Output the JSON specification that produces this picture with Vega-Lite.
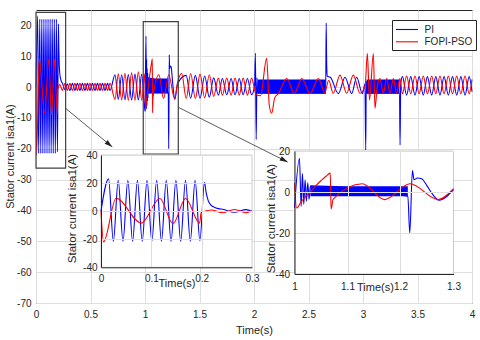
{
  "$schema": "https://vega.github.io/schema/vega-lite/v6.json",
  "width": 436,
  "height": 293,
  "autosize": "none",
  "padding": {"left": 36, "top": 10, "right": 8, "bottom": 37},
  "background": "white",
  "config": {
    "font": "Liberation Sans",
    "view": {"stroke": "#262626", "strokeWidth": 1},
    "axis": {"labelFont": "Liberation Sans", "labelFontSize": 10, "labelColor": "#262626", "titleFont": "Liberation Sans", "titleFontSize": 11, "titleFontWeight": "normal", "titleColor": "#262626", "gridColor": "#dedede", "gridOpacity": 1, "ticks": false, "domainColor": "#262626", "labelFlush": false, "labelOverlap": false, "tickCount": 20},
    "line": {"strokeWidth": 1.1, "interpolate": "monotone"}
  },
  "datasets": {
    "pi": [
      {"t":0,"v":0},{"t":0.015,"v":23},{"t":0.0246,"v":-21.5},{"t":0.0342,"v":22},{"t":0.0437,"v":-21.5},{"t":0.0533,"v":22},{"t":0.0628,"v":-21.5},{"t":0.0724,"v":22},{"t":0.0819,"v":-21.5},{"t":0.0915,"v":22},{"t":0.101,"v":-21.5},{"t":0.1106,"v":22},{"t":0.1201,"v":-21.5},{"t":0.1297,"v":22},{"t":0.1392,"v":-21.5},{"t":0.1488,"v":22},{"t":0.1583,"v":-21.5},{"t":0.1679,"v":22},{"t":0.1774,"v":-21.5},{"t":0.187,"v":22},{"t":0.1965,"v":-21},{"t":0.2055,"v":20.5},{"t":0.209,"v":13},{"t":0.213,"v":7.5},{"t":0.218,"v":4.5},{"t":0.225,"v":2.8},{"t":0.233,"v":1.8},{"t":0.242,"v":1.3},{"t":0.265,"v":-0.8},{"t":0.288,"v":1.1},{"t":0.3,"v":-0.3},{"t":0.311,"v":-1.1},{"t":0.334,"v":1.2},{"t":0.357,"v":-1.1},{"t":0.38,"v":1.2},{"t":0.403,"v":-1.1},{"t":0.426,"v":1.2},{"t":0.449,"v":-1.1},{"t":0.472,"v":1.2},{"t":0.495,"v":-1.1},{"t":0.518,"v":1.2},{"t":0.541,"v":-1.1},{"t":0.564,"v":1.2},{"t":0.587,"v":-1.1},{"t":0.61,"v":1.2},{"t":0.633,"v":-1.1},{"t":0.656,"v":1.2},{"t":0.679,"v":-1.1},{"t":0.725,"v":4},{"t":0.755,"v":-4},{"t":0.786,"v":4},{"t":0.816,"v":-4.1},{"t":0.847,"v":4.1},{"t":0.877,"v":-4.2},{"t":0.908,"v":4.2},{"t":0.939,"v":-4.2},{"t":0.97,"v":4.2},{"t":1.0,"v":-7.8},{"t":1.0094,"v":16.5},{"t":1.0125,"v":-7},{"t":1.015,"v":9},{"t":1.0175,"v":-6},{"t":1.02,"v":6},{"t":1.0225,"v":-4.5},{"t":1.025,"v":4.5},{"t":1.0275,"v":-3.5},{"t":1.03,"v":3},{"t":1.2138,"v":-2},{"t":1.2175,"v":-20},{"t":1.2225,"v":10.5},{"t":1.2255,"v":6},{"t":1.232,"v":6.8},{"t":1.24,"v":6.5},{"t":1.25,"v":3},{"t":1.2575,"v":0},{"t":1.273,"v":-4},{"t":1.3,"v":1.2},{"t":1.378,"v":3.8},{"t":1.419,"v":-3.6},{"t":1.462,"v":3.8},{"t":1.505,"v":-3.6},{"t":1.547,"v":3.6},{"t":1.59,"v":-3.3},{"t":1.63,"v":3},{"t":1.673,"v":-2.6},{"t":1.71,"v":2.8},{"t":1.75,"v":-2.5},{"t":1.79,"v":2.8},{"t":1.826,"v":-2.5},{"t":1.865,"v":2.8},{"t":1.9,"v":-2.5},{"t":1.94,"v":2.8},{"t":1.978,"v":-2.5},{"t":2.005,"v":0.5},{"t":2.013,"v":11},{"t":2.02,"v":-17},{"t":2.027,"v":3},{"t":2.034,"v":-2},{"t":2.658,"v":-2},{"t":2.662,"v":20.8},{"t":2.667,"v":7},{"t":2.673,"v":3.5},{"t":2.7,"v":3.2},{"t":2.774,"v":-2.1},{"t":2.835,"v":3.2},{"t":2.896,"v":-2.1},{"t":2.942,"v":3.2},{"t":2.994,"v":-2.1},{"t":3.018,"v":1},{"t":3.025,"v":-20.4},{"t":3.03,"v":2},{"t":3.034,"v":-2},{"t":3.335,"v":-2},{"t":3.34,"v":-18.8},{"t":3.346,"v":1},{"t":3.362,"v":3.4},{"t":3.4,"v":-2.6},{"t":3.438,"v":3.4},{"t":3.477,"v":-2.6},{"t":3.515,"v":3.4},{"t":3.553,"v":-2.6},{"t":3.591,"v":3.4},{"t":3.63,"v":-2.6},{"t":3.668,"v":3.4},{"t":3.706,"v":-2.6},{"t":3.744,"v":3.4},{"t":3.783,"v":-2.6},{"t":3.821,"v":3.4},{"t":3.86,"v":-2.6},{"t":3.898,"v":3.4},{"t":3.936,"v":-2.6},{"t":3.974,"v":3.4},{"t":4.0,"v":-1.5}
    ],
    "fopi": [
      {"t":0,"v":0},{"t":0.005,"v":-22},{"t":0.03,"v":9.2},{"t":0.08,"v":-8.5},{"t":0.117,"v":9},{"t":0.143,"v":-9},{"t":0.168,"v":9},{"t":0.196,"v":-8.5},{"t":0.199,"v":-1},{"t":0.219,"v":0.8},{"t":0.242,"v":-1.1},{"t":0.265,"v":1.2},{"t":0.288,"v":-1.1},{"t":0.3,"v":0.2},{"t":0.311,"v":1.2},{"t":0.334,"v":-1.1},{"t":0.357,"v":1.2},{"t":0.38,"v":-1.1},{"t":0.403,"v":1.2},{"t":0.426,"v":-1.1},{"t":0.449,"v":1.2},{"t":0.472,"v":-1.1},{"t":0.495,"v":1.2},{"t":0.518,"v":-1.1},{"t":0.541,"v":1.2},{"t":0.564,"v":-1.1},{"t":0.587,"v":1.2},{"t":0.61,"v":-1.1},{"t":0.633,"v":1.2},{"t":0.656,"v":-1.1},{"t":0.679,"v":1.2},{"t":0.725,"v":-4},{"t":0.755,"v":4.3},{"t":0.786,"v":-4.2},{"t":0.816,"v":4.5},{"t":0.847,"v":-4.3},{"t":0.877,"v":4.7},{"t":0.908,"v":-4.3},{"t":0.939,"v":5},{"t":0.97,"v":-4.3},{"t":1.0,"v":4.4},{"t":1.004,"v":-7.8},{"t":1.012,"v":-5},{"t":1.02,"v":-2.5},{"t":1.03,"v":0},{"t":1.04,"v":3},{"t":1.05,"v":5.5},{"t":1.06,"v":7.8},{"t":1.0675,"v":9.2},{"t":1.069,"v":-8.3},{"t":1.073,"v":-3.5},{"t":1.128,"v":4},{"t":1.17,"v":-3.7},{"t":1.218,"v":4},{"t":1.271,"v":-3.7},{"t":1.3,"v":1.6},{"t":1.337,"v":4.4},{"t":1.378,"v":-3.7},{"t":1.419,"v":4.4},{"t":1.462,"v":-3.7},{"t":1.505,"v":4.2},{"t":1.547,"v":-3.5},{"t":1.59,"v":4},{"t":1.63,"v":-3},{"t":1.673,"v":2.9},{"t":1.71,"v":-2.6},{"t":1.75,"v":2.9},{"t":1.79,"v":-2.6},{"t":1.826,"v":2.9},{"t":1.865,"v":-2.6},{"t":1.9,"v":2.9},{"t":1.94,"v":-2.6},{"t":1.978,"v":2.9},{"t":2.02,"v":-2.5},{"t":2.06,"v":-2.8},{"t":2.116,"v":9.3},{"t":2.14,"v":-5.8},{"t":2.162,"v":-8.5},{"t":2.19,"v":-3.5},{"t":2.223,"v":-2.1},{"t":2.3,"v":2.8},{"t":2.37,"v":-2.1},{"t":2.438,"v":2.8},{"t":2.514,"v":-2.1},{"t":2.59,"v":2.8},{"t":2.65,"v":-1.8},{"t":2.685,"v":2.2},{"t":2.727,"v":-2},{"t":2.789,"v":3.9},{"t":2.85,"v":-2},{"t":2.911,"v":3.9},{"t":2.972,"v":-2},{"t":3.02,"v":0.5},{"t":3.04,"v":10.9},{"t":3.06,"v":-4.2},{"t":3.095,"v":10.9},{"t":3.11,"v":-6.9},{"t":3.13,"v":0},{"t":3.156,"v":2.8},{"t":3.186,"v":-2},{"t":3.217,"v":2.8},{"t":3.248,"v":-2},{"t":3.278,"v":2.8},{"t":3.309,"v":-2},{"t":3.339,"v":2.8},{"t":3.362,"v":-2.2},{"t":3.4,"v":3.6},{"t":3.438,"v":-2.2},{"t":3.477,"v":3.6},{"t":3.515,"v":-2.2},{"t":3.553,"v":3.6},{"t":3.591,"v":-2.2},{"t":3.63,"v":3.6},{"t":3.668,"v":-2.2},{"t":3.706,"v":3.6},{"t":3.744,"v":-2.2},{"t":3.783,"v":3.6},{"t":3.821,"v":-2.2},{"t":3.86,"v":3.6},{"t":3.898,"v":-2.2},{"t":3.936,"v":3.6},{"t":3.974,"v":-2.2},{"t":4.0,"v":2.5}
    ],
    "band": [
      {"b":1,"t":1.03,"lo":-2.1,"hi":2.8},{"b":1,"t":1.2138,"lo":-2.1,"hi":2.8},
      {"b":2,"t":2.034,"lo":-2.05,"hi":2.5},{"b":2,"t":2.658,"lo":-2.05,"hi":2.5},
      {"b":3,"t":3.034,"lo":-2.05,"hi":2.5},{"b":3,"t":3.335,"lo":-2.05,"hi":2.5}
    ],
    "boxes": [
      {"t0":0,"t1":0.272,"v0":-26.3,"v1":24.2},
      {"t0":0.984,"t1":1.3055,"v0":-21.7,"v1":21.2}
    ],
    "arrows": [
      {"t0":0.272,"v0":-6.9,"t1":0.7,"v1":-19.4},
      {"t0":1.3055,"v0":-6.55,"t1":2.31,"v1":-24.3}
    ]
  },
  "resolve": {"scale": {"x": "independent", "y": "independent"}, "axis": {"x": "independent", "y": "independent"}},
  "layer": [
    {
      "layer": [
        {
          "data": {"name": "pi"},
          "mark": {"type": "line"},
          "encoding": {
            "x": {"field": "t", "type": "quantitative", "scale": {"domain": [0, 4], "nice": false, "zero": false},
                  "axis": {"orient": "bottom", "values": [0, 0.5, 1, 1.5, 2, 2.5, 3, 3.5, 4], "tickCount": 20, "labelExpr": "'' + datum.value", "labelOverlap": false, "grid": true, "domain": false, "labelPadding": 6, "title": "Time(s)", "titleBaseline": "middle", "titleY": 27}},
            "y": {"field": "v", "type": "quantitative", "scale": {"domain": [-70, 25], "nice": false, "zero": false},
                  "axis": {"orient": "left", "values": [-70, -60, -50, -40, -30, -20, -10, 0, 10, 20], "tickCount": 20, "labelExpr": "'' + datum.value", "labelOverlap": false, "grid": true, "domain": false, "labelPadding": 5, "title": "Stator current isa1(A)", "titleBaseline": "middle", "titleX": -26, "titleY": 146}},
            "color": {"datum": "PI", "type": "nominal", "scale": {"domain": ["PI", "FOPI-PSO"], "range": ["#0000ff", "#ff0000"]},
                      "legend": {"orient": "none", "legendX": 356, "legendY": 10, "title": null, "strokeColor": "#262626", "fillColor": "#ffffff", "padding": 3, "symbolType": "M-2,0H2", "symbolSize": 121, "symbolOffset": 5.5, "symbolStrokeWidth": 1.2, "labelFontSize": 10, "labelColor": "#262626", "labelOffset": 11, "rowPadding": 0.3}}
          }
        },
        {
          "data": {"name": "band"},
          "mark": {"type": "area", "color": "#0000ff", "interpolate": "linear"},
          "encoding": {
            "x": {"field": "t", "type": "quantitative", "scale": {"domain": [0, 4], "nice": false, "zero": false}},
            "y": {"field": "lo", "type": "quantitative", "scale": {"domain": [-70, 25], "nice": false, "zero": false}},
            "y2": {"field": "hi"},
            "detail": {"field": "b", "type": "nominal"}
          }
        },
        {
          "data": {"name": "fopi"},
          "mark": {"type": "line"},
          "encoding": {
            "x": {"field": "t", "type": "quantitative", "scale": {"domain": [0, 4], "nice": false, "zero": false}},
            "y": {"field": "v", "type": "quantitative", "scale": {"domain": [-70, 25], "nice": false, "zero": false}},
            "color": {"datum": "FOPI-PSO", "type": "nominal"}
          }
        },
        {
          "data": {"name": "boxes"},
          "mark": {"type": "rect", "filled": false, "stroke": "#404040", "strokeWidth": 1.2},
          "encoding": {
            "x": {"field": "t0", "type": "quantitative", "scale": {"domain": [0, 4], "nice": false, "zero": false}},
            "x2": {"field": "t1"},
            "y": {"field": "v0", "type": "quantitative", "scale": {"domain": [-70, 25], "nice": false, "zero": false}},
            "y2": {"field": "v1"}
          }
        },
        {
          "data": {"name": "arrows"},
          "mark": {"type": "rule", "color": "#333333", "strokeWidth": 0.8},
          "encoding": {
            "x": {"field": "t0", "type": "quantitative", "scale": {"domain": [0, 4], "nice": false, "zero": false}},
            "x2": {"field": "t1"},
            "y": {"field": "v0", "type": "quantitative", "scale": {"domain": [-70, 25], "nice": false, "zero": false}},
            "y2": {"field": "v1"}
          }
        },
        {
          "data": {"values": [{}]},
          "mark": {"type": "point", "shape": "M0,0L-2,-0.6L-2,0.6Z", "filled": true, "color": "#222222", "opacity": 1, "size": 64, "angle": 40},
          "encoding": {
            "x": {"datum": 0.7, "type": "quantitative", "scale": {"domain": [0, 4], "nice": false, "zero": false}},
            "y": {"datum": -19.4, "type": "quantitative", "scale": {"domain": [-70, 25], "nice": false, "zero": false}}
          }
        },
        {
          "data": {"values": [{}]},
          "mark": {"type": "point", "shape": "M0,0L-2,-0.6L-2,0.6Z", "filled": true, "color": "#222222", "opacity": 1, "size": 64, "angle": 27},
          "encoding": {
            "x": {"datum": 2.31, "type": "quantitative", "scale": {"domain": [0, 4], "nice": false, "zero": false}},
            "y": {"datum": -24.3, "type": "quantitative", "scale": {"domain": [-70, 25], "nice": false, "zero": false}}
          }
        }
      ]
    },
    {
      "resolve": {"axis": {"x": "independent"}},
      "layer": [
        {
          "data": {"values": [{}]},
          "mark": {"type": "rect", "fill": "#ffffff", "stroke": "#cccccc", "strokeWidth": 1},
          "encoding": {
            "x": {"datum": 0, "type": "quantitative", "scale": {"domain": [0, 0.3], "range": [65, 216], "nice": false, "zero": false},
                  "axis": {"orient": "top", "values": [0.1, 0.2], "grid": true, "labels": false, "domain": false, "title": null, "zindex": 1}},
            "x2": {"datum": 0.3},
            "y": {"datum": -40, "type": "quantitative", "scale": {"domain": [-40, 40], "range": [257.3, 145], "nice": false, "zero": false},
                  "axis": {"orient": "left", "offset": -65, "values": [-40, -20, 0, 20, 40], "labelExpr": "'' + datum.value", "labelOverlap": false, "grid": true, "domain": true, "labelPadding": 4, "title": "Stator current isa1(A)", "titleFontSize": 11.5, "titleBaseline": "middle", "titleX": -29, "titleY": 198, "zindex": 1}},
            "y2": {"datum": 40}
          }
        },
        {
          "data": {"name": "pi"},
          "transform": [{"filter": "datum.t <= 0.3"}],
          "mark": {"type": "line", "color": "#0000ff"},
          "encoding": {
            "x": {"field": "t", "type": "quantitative", "scale": {"domain": [0, 0.3], "range": [65, 216], "nice": false, "zero": false},
                  "axis": {"orient": "bottom", "offset": -35.7, "values": [0, 0.1, 0.2, 0.3], "labelExpr": "'' + datum.value", "labelOverlap": false, "grid": false, "domain": true, "labelPadding": 6, "title": "Time(s)", "titleBaseline": "middle", "titleY": 16, "titleX": 140.5, "zindex": 1}},
            "y": {"field": "v", "type": "quantitative", "scale": {"domain": [-40, 40], "range": [257.3, 145], "nice": false, "zero": false}}
          }
        },
        {
          "data": {"name": "fopi"},
          "transform": [{"filter": "datum.t <= 0.3"}],
          "mark": {"type": "line", "color": "#ff0000"},
          "encoding": {
            "x": {"field": "t", "type": "quantitative", "scale": {"domain": [0, 0.3], "range": [65, 216], "nice": false, "zero": false}, "axis": null},
            "y": {"field": "v", "type": "quantitative", "scale": {"domain": [-40, 40], "range": [257.3, 145], "nice": false, "zero": false}}
          }
        }
      ]
    },
    {
      "resolve": {"axis": {"x": "independent"}},
      "layer": [
        {
          "data": {"values": [{}]},
          "mark": {"type": "rect", "fill": "#ffffff", "stroke": "#cccccc", "strokeWidth": 1},
          "encoding": {
            "x": {"datum": 1, "type": "quantitative", "scale": {"domain": [1, 1.3], "range": [258.5, 417.5], "nice": false, "zero": false},
                  "axis": {"orient": "top", "values": [1.1, 1.2], "grid": true, "labels": false, "domain": false, "title": null, "zindex": 1}},
            "x2": {"datum": 1.3},
            "y": {"datum": -40, "type": "quantitative", "scale": {"domain": [-40, 20], "range": [264, 141], "nice": false, "zero": false},
                  "axis": {"orient": "left", "offset": -258.5, "values": [-40, -20, 0, 20], "labelExpr": "'' + datum.value", "labelOverlap": false, "grid": true, "domain": true, "labelPadding": 5, "title": "Stator current isa1(A)", "titleFontSize": 11.5, "titleBaseline": "middle", "titleX": -23, "titleY": 208, "zindex": 1}},
            "y2": {"datum": 20}
          }
        },
        {
          "data": {"name": "pi"},
          "transform": [{"filter": "datum.t >= 1 && datum.t <= 1.3"}],
          "mark": {"type": "line", "color": "#0000ff"},
          "encoding": {
            "x": {"field": "t", "type": "quantitative", "scale": {"domain": [1, 1.3], "range": [258.5, 417.5], "nice": false, "zero": false},
                  "axis": {"orient": "bottom", "offset": -29, "values": [1, 1.1, 1.2, 1.3], "labelExpr": "'' + datum.value", "labelOverlap": false, "grid": false, "domain": true, "labelPadding": 7, "title": "Time(s)", "titleBaseline": "middle", "titleY": 13, "titleX": 339, "zindex": 1}},
            "y": {"field": "v", "type": "quantitative", "scale": {"domain": [-40, 20], "range": [264, 141], "nice": false, "zero": false}}
          }
        },
        {
          "data": {"name": "band"},
          "transform": [{"filter": "datum.b == 1"}],
          "mark": {"type": "area", "color": "#0000ff", "interpolate": "linear"},
          "encoding": {
            "x": {"field": "t", "type": "quantitative", "scale": {"domain": [1, 1.3], "range": [258.5, 417.5], "nice": false, "zero": false}, "axis": null},
            "y": {"field": "lo", "type": "quantitative", "scale": {"domain": [-40, 20], "range": [264, 141], "nice": false, "zero": false}},
            "y2": {"field": "hi"}
          }
        },
        {
          "data": {"name": "fopi"},
          "transform": [{"filter": "datum.t >= 1 && datum.t <= 1.3"}],
          "mark": {"type": "line", "color": "#ff0000"},
          "encoding": {
            "x": {"field": "t", "type": "quantitative", "scale": {"domain": [1, 1.3], "range": [258.5, 417.5], "nice": false, "zero": false}, "axis": null},
            "y": {"field": "v", "type": "quantitative", "scale": {"domain": [-40, 20], "range": [264, 141], "nice": false, "zero": false}}
          }
        }
      ]
    }
  ]
}
